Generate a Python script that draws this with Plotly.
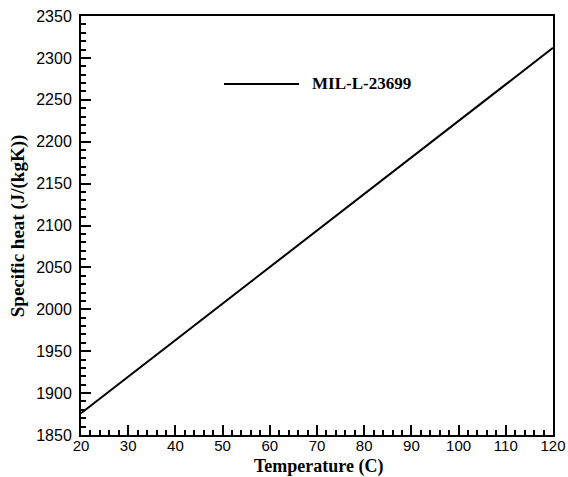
import plotly.graph_objects as go

temperature = [20, 70, 120]
specific_heat = [1876, 2094, 2312]
series_name = "MIL-L-23699"
x_ticks = [20, 30, 40, 50, 60, 70, 80, 90, 100, 110, 120]
y_ticks = [1850, 1900, 1950, 2000, 2050, 2100, 2150, 2200, 2250, 2300, 2350]
x_title = "Temperature (C)"
y_title = "Specific heat (J/(kgK))"

serif = "Liberation Serif, Times New Roman"

fig = go.Figure()
fig.add_trace(go.Scatter(x=temperature, y=specific_heat, mode="lines",
                         line=dict(color="black", width=2), name=series_name,
                         showlegend=False))

axis_common = dict(
    showgrid=False, zeroline=False, showline=True, linecolor="black", linewidth=2,
    mirror=True, ticks="inside", ticklen=10, tickwidth=2, tickcolor="black",
    automargin=False,
    tickfont=dict(family="Liberation Sans, Arial", size=16, color="black"),
)
fig.update_xaxes(range=[20, 120], tickvals=x_ticks, ticklabelstandoff=-4,
                 tickfont=dict(family="Liberation Sans, Arial", size=15, color="black"),
                 minor=dict(ticks="inside", ticklen=5, tickwidth=1.5, tickcolor="black", dtick=2, tick0=20),
                 **{k: v for k, v in axis_common.items() if k != "tickfont"})
fig.update_yaxes(range=[1850, 2350], tickvals=y_ticks, ticklabelstandoff=4,
                 minor=dict(ticks="inside", ticklen=5, tickwidth=1.5, tickcolor="black", dtick=10, tick0=1850),
                 **axis_common)

fig.add_annotation(xref="paper", yref="paper", x=0.503, y=-0.075, xanchor="center", yanchor="middle",
                   text="<b>" + x_title + "</b>", showarrow=False, borderpad=0,
                   font=dict(family=serif, size=18, color="black"))
fig.add_annotation(xref="paper", yref="paper", x=-0.134, y=0.5, xanchor="center", yanchor="middle",
                   text="<b>" + y_title + "</b>", showarrow=False, textangle=-90,
                   font=dict(family=serif, size=19, color="black"))

fig.add_shape(type="line", xref="paper", yref="paper", x0=0.303, x1=0.462, y0=0.838, y1=0.838,
              line=dict(color="black", width=2))
fig.add_annotation(xref="paper", yref="paper", x=0.485, y=0.838, xanchor="left", yanchor="middle",
                   text="<b>" + series_name + "</b>", showarrow=False,
                   font=dict(family=serif, size=17, color="black"))

fig.update_layout(width=568, height=477, margin=dict(l=81, r=15, t=16, b=42),
                  plot_bgcolor="white", paper_bgcolor="white")
fig.write_html("out.html")
